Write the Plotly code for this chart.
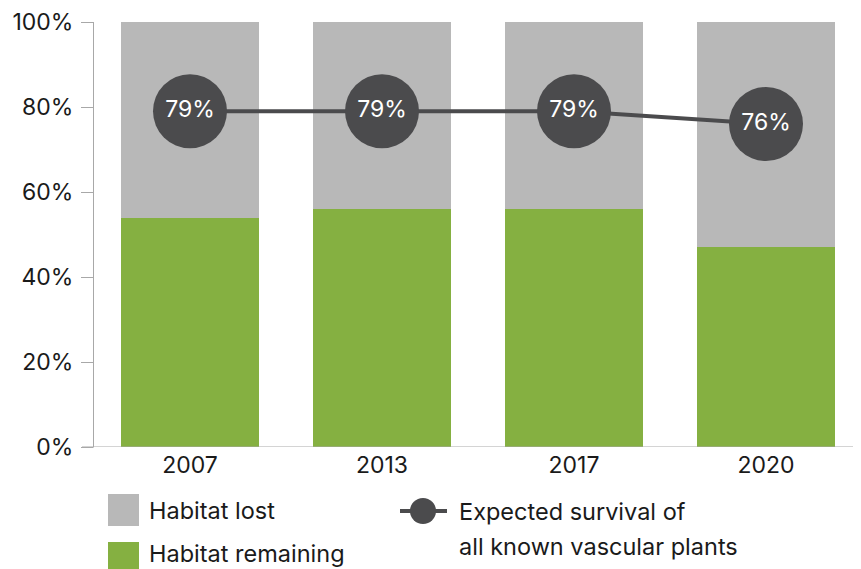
import plotly.graph_objects as go

years = ["2007", "2013", "2017", "2020"]
habitat_remaining = [54, 56, 56, 47]
habitat_lost = [46, 44, 44, 53]
expected_survival = [79, 79, 79, 76]
y_ticks = [0, 20, 40, 60, 80, 100]
y_tick_labels = ["0%", "20%", "40%", "60%", "80%", "100%"]

GREEN = "#85b041"
GRAY = "#b8b8b8"
DARK = "#4b4b4d"
FONT = "Inter"
FS = 23

# page offset (body margin) compensation
OX, OY = 8, 8
L, T = 94 - OX, 22 - OY
PW, PH = 768, 425


def px(x):
    return (x - OX - L) / PW


def py(y):
    return (T + PH - (y - OY)) / PH


fig = go.Figure()
fig.add_trace(go.Bar(x=years, y=habitat_remaining, name="Habitat remaining",
                     marker=dict(color=GREEN, line=dict(width=0)), hoverinfo="skip"))
fig.add_trace(go.Bar(x=years, y=habitat_lost, name="Habitat lost",
                     marker=dict(color=GRAY, line=dict(width=0)), hoverinfo="skip"))
fig.add_trace(go.Scatter(x=years, y=expected_survival, mode="lines+markers+text",
                         name="Expected survival of all known vascular plants",
                         line=dict(color=DARK, width=4),
                         marker=dict(color=DARK, size=74, line=dict(width=0)),
                         text=[f"{v}%" for v in expected_survival],
                         textposition="middle center",
                         textfont=dict(color="white", size=FS, family=FONT),
                         cliponaxis=False))

shapes = [
    dict(type="rect", xref="paper", yref="paper", x0=px(108), x1=px(139),
         y0=py(526), y1=py(494), fillcolor=GRAY, line=dict(width=0)),
    dict(type="rect", xref="paper", yref="paper", x0=px(108), x1=px(139),
         y0=py(580), y1=py(542), fillcolor=GREEN, line=dict(width=0)),
    dict(type="line", xref="paper", yref="paper", x0=px(400), x1=px(447),
         y0=py(511), y1=py(511), line=dict(color=DARK, width=4)),
    dict(type="circle", xref="paper", yref="paper", x0=px(410), x1=px(436),
         y0=py(524), y1=py(498), fillcolor=DARK, line=dict(width=0)),
    dict(type="line", xref="paper", yref="paper", x0=px(82), x1=px(94),
         y0=0, y1=0, line=dict(color="#a8a8a8", width=1)),
]
tf = dict(size=23.5, color="#1a1a1a", family=FONT)
annotations = [
    dict(text="Habitat lost", xref="paper", yref="paper", x=px(147), y=py(510),
         xanchor="left", yanchor="middle", showarrow=False, font=tf),
    dict(text="Habitat remaining", xref="paper", yref="paper", x=px(147), y=py(553),
         xanchor="left", yanchor="middle", showarrow=False, font=tf),
    dict(text="Expected survival of", xref="paper", yref="paper", x=px(457), y=py(511),
         xanchor="left", yanchor="middle", showarrow=False, font=tf),
    dict(text="all known vascular plants", xref="paper", yref="paper", x=px(457), y=py(546),
         xanchor="left", yanchor="middle", showarrow=False, font=tf),
]

fig.update_layout(
    width=861, height=569,
    margin=dict(l=L, r=861 - L - PW, t=T, b=569 - T - PH, autoexpand=False),
    barmode="stack", bargap=0.28,
    plot_bgcolor="white", paper_bgcolor="white",
    showlegend=False,
    font=dict(family=FONT, size=FS, color="#1a1a1a"),
    shapes=shapes, annotations=annotations,
    xaxis=dict(showgrid=False, showline=False, ticks="", tickfont=dict(size=FS),
               ticklabelstandoff=2, automargin=False),
    yaxis=dict(range=[0, 100], tickvals=y_ticks, ticktext=y_tick_labels,
               showgrid=False, showline=True, linecolor="#a8a8a8", linewidth=1,
               ticks="outside", ticklen=12, tickcolor="#a8a8a8", tickfont=dict(size=FS),
               zeroline=False, ticklabelstandoff=3, automargin=False),
)
fig.add_hline(y=0, line=dict(color="#a8a8a8", width=1))
fig.write_html("out.html")
